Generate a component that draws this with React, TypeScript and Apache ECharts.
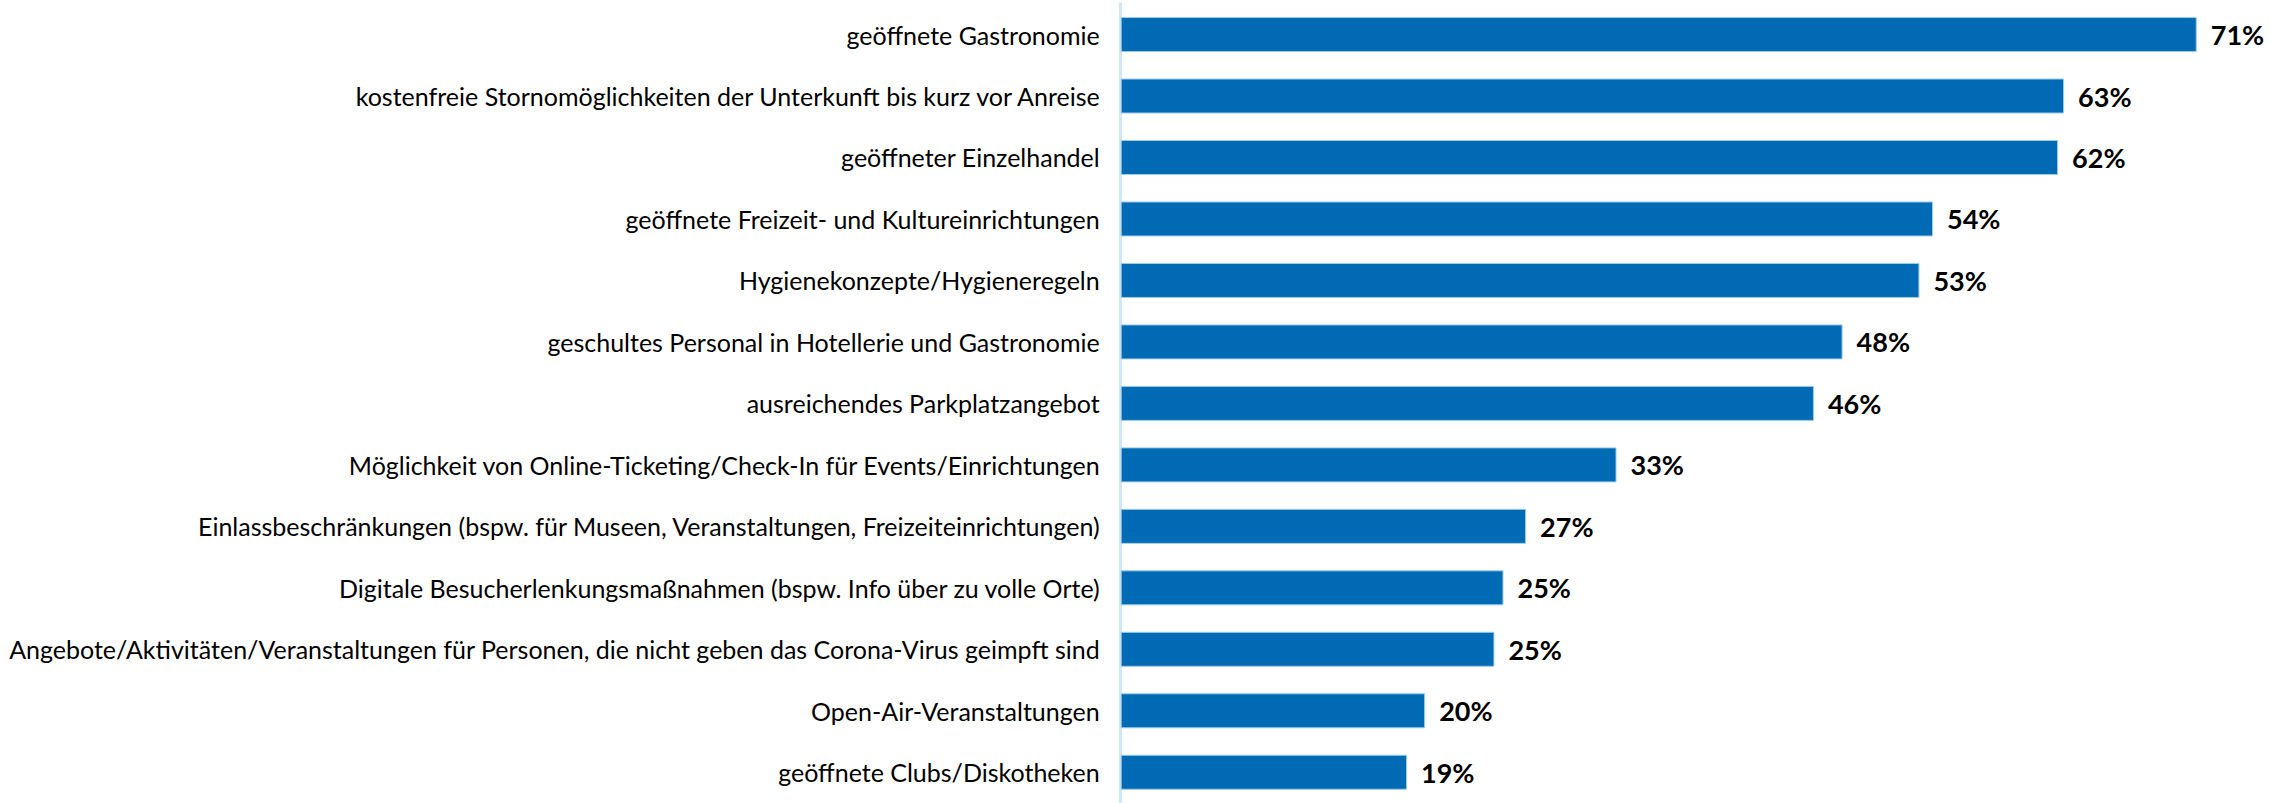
import React, { useEffect, useRef } from "react";
import * as echarts from "echarts";

const categories = [
  "geöffnete Gastronomie",
  "kostenfreie Stornomöglichkeiten der Unterkunft bis kurz vor Anreise",
  "geöffneter Einzelhandel",
  "geöffnete Freizeit- und Kultureinrichtungen",
  "Hygienekonzepte/Hygieneregeln",
  "geschultes Personal in Hotellerie und Gastronomie",
  "ausreichendes Parkplatzangebot",
  "Möglichkeit von Online-Ticketing/Check-In für Events/Einrichtungen",
  "Einlassbeschränkungen (bspw. für Museen, Veranstaltungen, Freizeiteinrichtungen)",
  "Digitale Besucherlenkungsmaßnahmen (bspw. Info über zu volle Orte)",
  "Angebote/Aktivitäten/Veranstaltungen für Personen, die nicht geben das Corona-Virus geimpft sind",
  "Open-Air-Veranstaltungen",
  "geöffnete Clubs/Diskotheken",
];
// values (labels show rounded percentages)
const values = [71.4, 62.6, 62.2, 53.9, 53.0, 47.9, 46.0, 32.9, 26.9, 25.4, 24.8, 20.2, 19.0];

export default function App() {
  const ref = useRef<HTMLDivElement>(null);
  useEffect(() => {
    if (!ref.current) return;
    const chart = echarts.init(ref.current, undefined, { renderer: "svg" });
    chart.setOption({
      animation: false,
      backgroundColor: "#ffffff",
      grid: { left: 1120.7, top: 3.8, height: 807, right: 41, containLabel: false },
      xAxis: {
        type: "value",
        min: 0,
        max: 75,
        show: false,
      },
      yAxis: {
        type: "category",
        inverse: true,
        data: categories,
        axisLine: { show: true, lineStyle: { color: "#cfe7fa", width: 3 } },
        axisTick: { show: false },
        axisLabel: {
          color: "#000000",
          fontFamily: "Lato",
          fontSize: 25,
          margin: 21,
        },
      },
      series: [
        {
          type: "bar",
          data: values,
          barWidth: 35,
          itemStyle: { color: "#006bb5", borderColor: "#9fcbea", borderWidth: 1 },
          label: {
            show: true,
            position: "right",
            distance: 14,
            formatter: (p: any) => Math.round(p.value) + "%",
            color: "#000000",
            fontFamily: "Lato",
            fontWeight: "bold",
            fontSize: 27,
          },
        },
      ],
    });
    return () => chart.dispose();
  }, []);
  return (
    <div
      ref={ref}
      style={{ position: "absolute", left: 0, top: 0, width: 2292, height: 803 }}
    />
  );
}
